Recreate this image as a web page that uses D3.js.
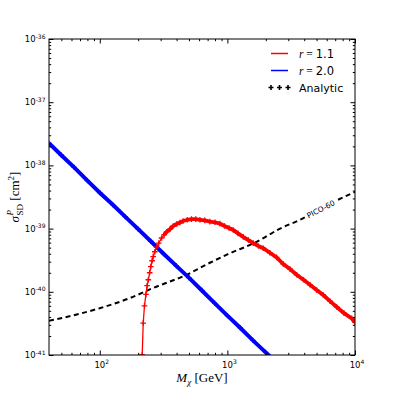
<!DOCTYPE html>
<html>
<head>
<meta charset="utf-8">
<script src="https://cdn.jsdelivr.net/npm/d3@7"></script>
<style>
  body { margin: 0; background: #fff; }
  svg { display: block; }
</style>
</head>
<body>
<script>
// r = 2.0 (blue)
const massBlue = [40, 50, 63, 80, 100, 126, 158, 200, 251, 316, 398, 501, 631, 794, 1000, 1259, 1585, 1995, 2512]
const sigmaBlue = [2.24e-38, 1.45e-38, 9.3e-39, 5.75e-39, 3.7e-39, 2.4e-39, 1.55e-39, 9.8e-40, 6.3e-40, 4.0e-40,
  2.57e-40, 1.66e-40, 1.05e-40, 6.6e-41, 4.2e-41, 2.7e-41, 1.7e-41, 1.1e-41, 7.1e-42]

// r = 1.1 (red)
const massRed = [212, 215, 219, 224, 230, 235, 240, 246, 251, 257, 262, 270, 279, 290, 305, 320, 334, 355, 376, 400,
  425, 450, 485, 523, 565, 609, 665, 729, 800, 873, 950, 1030, 1111, 1210, 1331, 1460, 1594, 1750, 1910, 2153,
  2431, 2741, 3090, 3490, 3950, 4440, 5000, 5640, 6370, 7190, 8200, 9420, 10000]
const sigmaRed = [3e-42, 1.0e-41, 3.2e-41, 6.0e-41, 9.1e-41, 1.25e-40, 1.55e-40, 2.0e-40, 2.5e-40, 3.1e-40,
  3.6e-40, 4.3e-40, 5.1e-40, 5.9e-40, 7.1e-40, 8.0e-40, 8.9e-40, 9.8e-40, 1.10e-39, 1.18e-39,
  1.25e-39, 1.32e-39, 1.38e-39, 1.41e-39, 1.41e-39, 1.38e-39, 1.35e-39, 1.29e-39, 1.26e-39, 1.20e-39,
  1.10e-39, 1.02e-39, 9.5e-40, 8.4e-40, 7.4e-40, 6.6e-40, 5.9e-40, 5.3e-40, 4.9e-40, 4.15e-40,
  3.5e-40, 2.75e-40, 2.3e-40, 1.86e-40, 1.55e-40, 1.29e-40, 1.07e-40, 8.9e-41, 7.1e-41, 5.75e-41,
  4.6e-41, 3.8e-41, 3.3e-41]

// PICO-60 limit (dashed)
const massPico = [40, 60, 100, 172, 262, 479, 729, 1000, 1694, 2583, 3706, 6000, 10000]
const sigmaPico = [3.47e-41, 4.17e-41, 5.5e-41, 7.94e-41, 1.15e-40, 1.86e-40, 2.88e-40, 3.9e-40, 6.17e-40,
  1.0e-39, 1.38e-39, 2.34e-39, 3.8e-39]

const xMajor = [1e2, 1e3, 1e4]
const xMajorLabels = [['10', '2'], ['10', '3'], ['10', '4']]
const yMajor = [1e-41, 1e-40, 1e-39, 1e-38, 1e-37, 1e-36]
const yMajorLabels = [['10', '-41'], ['10', '-40'], ['10', '-39'], ['10', '-38'], ['10', '-37'], ['10', '-36']]

const legendLabels = ['1.1', '2.0', 'Analytic']

let width = 395
let height = 395
let margin = { top: 39, right: 40, bottom: 40, left: 49 }
let plotW = width - margin.left - margin.right
let plotH = height - margin.top - margin.bottom

const svg = d3.select('body')
  .append('svg')
  .attr('width', width)
  .attr('height', height)

svg.append('rect').attr('width', width).attr('height', height).attr('fill', '#fff')

const x = d3.scaleLog().domain([40, 1e4]).range([margin.left, margin.left + plotW])
const y = d3.scaleLog().domain([1e-41, 1e-36]).range([margin.top + plotH, margin.top])

svg.append('clipPath').attr('id', 'clip')
  .append('rect')
  .attr('x', margin.left).attr('y', margin.top)
  .attr('width', plotW).attr('height', plotH)

const plot = svg.append('g').attr('clip-path', 'url(#clip)')

const plus = (s) => `M${-s},0H${s}M0,${-s}V${s}`

// dashed PICO-60 line
const picoPts = massPico.map((m, i) => [x(m), y(sigmaPico[i])])
plot.append('path')
  .attr('d', d3.line().curve(d3.curveMonotoneX)(picoPts))
  .attr('fill', 'none')
  .attr('stroke', '#000')
  .attr('stroke-width', 2)
  .attr('stroke-dasharray', '5,3.5')

// inline label
const la = picoPts[10], lb = picoPts[12]
const angle = Math.atan2(lb[1] - la[1], lb[0] - la[0]) * 180 / Math.PI
const lx = x(5400), ly = la[1] + (lx - la[0]) * (lb[1] - la[1]) / (lb[0] - la[0])
const lab = plot.append('g').attr('transform', `translate(${lx},${ly}) rotate(${angle})`)
lab.append('rect').attr('x', -17).attr('y', -5).attr('width', 34).attr('height', 10).attr('fill', '#fff')
lab.append('text')
  .attr('text-anchor', 'middle')
  .attr('dy', '0.35em')
  .attr('font-family', 'DejaVu Sans')
  .attr('font-size', 7.5)
  .text('PICO-60')

// blue r = 2.0 (dense markers -> solid band)
const bluePts = massBlue.map((m, i) => [x(m), y(sigmaBlue[i])])
plot.append('path')
  .attr('d', d3.line()(bluePts))
  .attr('fill', 'none')
  .attr('stroke', '#0000ff')
  .attr('stroke-width', 4)
plot.selectAll('.mb')
  .data(bluePts)
  .join('path')
  .attr('class', 'mb')
  .attr('transform', d => `translate(${d[0]},${d[1]})`)
  .attr('d', plus(2.6))
  .attr('stroke', '#0000ff')
  .attr('stroke-width', 1.2)

// red r = 1.1
const redPts = massRed.map((m, i) => [x(m), y(sigmaRed[i])])
plot.append('path')
  .attr('d', d3.line()(redPts))
  .attr('fill', 'none')
  .attr('stroke', '#ff0000')
  .attr('stroke-width', 1.3)
// beyond ~300 GeV the markers overlap into a band
plot.append('path')
  .attr('d', d3.line()(redPts.slice(15)))
  .attr('fill', 'none')
  .attr('stroke', '#ff0000')
  .attr('stroke-width', 3.8)
plot.selectAll('.mr')
  .data(redPts)
  .join('path')
  .attr('class', 'mr')
  .attr('transform', d => `translate(${d[0]},${d[1]})`)
  .attr('d', plus(2.8))
  .attr('stroke', '#ff0000')
  .attr('stroke-width', 1.3)

// axes frame
svg.append('rect')
  .attr('x', margin.left).attr('y', margin.top)
  .attr('width', plotW).attr('height', plotH)
  .attr('fill', 'none').attr('stroke', '#000').attr('stroke-width', 1)

// ticks
function minorTicks(lo, hi) {
  let out = []
  for (let e = Math.floor(Math.log10(lo)); e <= Math.ceil(Math.log10(hi)); e++) {
    for (let k = 2; k <= 9; k++) {
      let v = k * Math.pow(10, e)
      if (v > lo && v < hi) out.push(v)
    }
  }
  return out
}
const xMinor = minorTicks(40, 1e4)
const yMinor = minorTicks(1e-41, 1e-36)

function tickAxis(axisFn, scale, values, size, transform) {
  svg.append('g')
    .attr('transform', transform)
    .call(axisFn(scale).tickValues(values).tickSize(size).tickFormat(''))
    .call(g => g.select('.domain').remove())
    .call(g => g.selectAll('line').attr('stroke', '#000').attr('stroke-width', 1))
}
tickAxis(d3.axisBottom, x, xMajor, -4.5, `translate(0,${margin.top + plotH})`)
tickAxis(d3.axisBottom, x, xMinor, -2.2, `translate(0,${margin.top + plotH})`)
tickAxis(d3.axisTop, x, xMajor, -4.5, `translate(0,${margin.top})`)
tickAxis(d3.axisTop, x, xMinor, -2.2, `translate(0,${margin.top})`)
tickAxis(d3.axisLeft, y, yMajor, -4.5, `translate(${margin.left},0)`)
tickAxis(d3.axisLeft, y, yMinor, -2.2, `translate(${margin.left},0)`)
tickAxis(d3.axisRight, y, yMajor, -4.5, `translate(${margin.left + plotW},0)`)
tickAxis(d3.axisRight, y, yMinor, -2.2, `translate(${margin.left + plotW},0)`)

// tick labels
svg.selectAll('.xl')
  .data(xMajor)
  .join('text')
  .attr('class', 'xl')
  .attr('x', d => x(d) + 2)
  .attr('y', margin.top + plotH + 12.5)
  .attr('text-anchor', 'middle')
  .attr('font-family', 'DejaVu Sans')
  .attr('font-size', 8.5)
  .each(function (d, i) {
    const t = d3.select(this)
    t.append('tspan').text(xMajorLabels[i][0])
    t.append('tspan').attr('dy', -3.5).attr('font-size', 6).text(xMajorLabels[i][1])
  })

svg.selectAll('.yl')
  .data(yMajor)
  .join('text')
  .attr('class', 'yl')
  .attr('x', margin.left - 3.5)
  .attr('y', d => y(d) + 3)
  .attr('text-anchor', 'end')
  .attr('font-family', 'DejaVu Sans')
  .attr('font-size', 8.5)
  .each(function (d, i) {
    const t = d3.select(this)
    t.append('tspan').text(yMajorLabels[i][0])
    t.append('tspan').attr('dy', -3.5).attr('font-size', 6).text(yMajorLabels[i][1])
  })

// axis labels
const xlab = svg.append('text')
  .attr('x', margin.left + plotW / 2)
  .attr('y', 382)
  .attr('text-anchor', 'middle')
  .attr('font-family', 'Liberation Serif')
  .attr('font-size', 13)
xlab.append('tspan').attr('font-style', 'italic').text('M')
xlab.append('tspan').attr('font-style', 'italic').attr('font-size', 9).attr('dy', 3).text('χ')
xlab.append('tspan').attr('dy', -3).text(' [GeV]')

const ylab = svg.append('text')
  .attr('transform', `translate(19,${margin.top + plotH / 2}) rotate(-90)`)
  .attr('text-anchor', 'middle')
  .attr('font-family', 'Liberation Serif')
  .attr('font-size', 13)
ylab.append('tspan').attr('font-style', 'italic').text('σ')
ylab.append('tspan').attr('font-style', 'italic').attr('font-size', 9).attr('dy', -6).attr('dx', 0.5).text('P')
ylab.append('tspan').attr('font-size', 9).attr('dy', 10).attr('dx', -5.5).text('SD')
ylab.append('tspan').attr('dy', -4).text(' [cm')
ylab.append('tspan').attr('font-size', 9).attr('dy', -5).text('2')
ylab.append('tspan').attr('dy', 5).text(']')

// legend
const legend = svg.append('g')
const rows = [53.5, 70.5, 87.5]
const legColors = ['#ff0000', '#0000ff']
legColors.forEach((c, i) => {
  legend.append('line')
    .attr('x1', 271).attr('x2', 288)
    .attr('y1', rows[i]).attr('y2', rows[i])
    .attr('stroke', c).attr('stroke-width', 1.5)
  const t = legend.append('text')
    .attr('x', 299).attr('y', rows[i] + 4)
    .attr('font-size', 11.5)
  t.append('tspan').attr('font-family', 'Liberation Serif').attr('font-style', 'italic').text('r')
  t.append('tspan').attr('font-family', 'Liberation Serif').text(' = ')
  t.append('tspan').attr('font-family', 'DejaVu Sans').text(legendLabels[i])
})
;[271, 279.5, 288].forEach(px => {
  legend.append('path')
    .attr('transform', `translate(${px},${rows[2]})`)
    .attr('d', plus(2.5))
    .attr('stroke', '#000').attr('stroke-width', 1.6)
})
legend.append('text')
  .attr('x', 299).attr('y', rows[2] + 4)
  .attr('font-family', 'DejaVu Sans')
  .attr('font-size', 11)
  .text(legendLabels[2])
</script>
</body>
</html>
